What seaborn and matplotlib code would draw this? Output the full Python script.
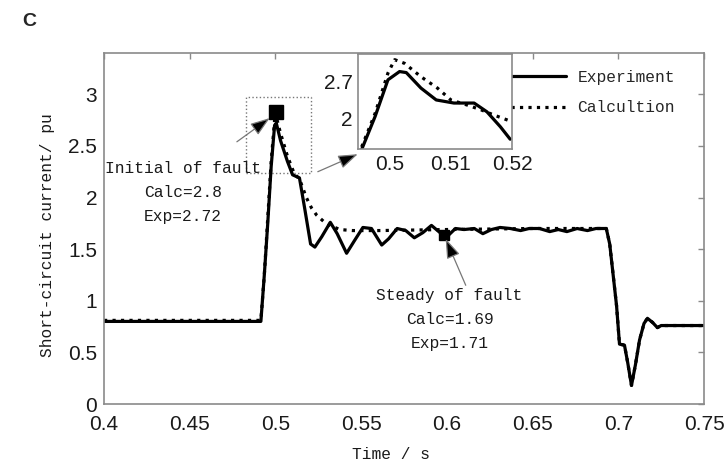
import matplotlib
matplotlib.use('Agg')
import matplotlib.pyplot as plt
from matplotlib.patches import Rectangle
import seaborn as sns

# ---- data ----
# experiment (solid line)
exp_t = [0.40, 0.4915, 0.4935, 0.4955, 0.4975, 0.4995, 0.5005, 0.503, 0.507, 0.510,
         0.514, 0.517, 0.5205, 0.523, 0.527, 0.532, 0.536, 0.5415, 0.546, 0.551,
         0.556, 0.562, 0.566, 0.571, 0.576, 0.581, 0.586, 0.591, 0.596, 0.600,
         0.605, 0.610, 0.616, 0.621, 0.626, 0.631, 0.637, 0.643, 0.648, 0.654,
         0.660, 0.665, 0.670, 0.676, 0.682, 0.687, 0.693, 0.695, 0.697, 0.699,
         0.7007, 0.7036, 0.7055, 0.7077, 0.710, 0.7124, 0.715, 0.717, 0.720, 0.7228,
         0.725, 0.75]
exp_i = [0.80, 0.80, 1.25, 1.75, 2.30, 2.70, 2.72, 2.55, 2.35, 2.22,
         2.19, 1.90, 1.55, 1.52, 1.62, 1.76, 1.65, 1.46, 1.58, 1.71,
         1.70, 1.54, 1.60, 1.70, 1.68, 1.61, 1.66, 1.73, 1.66, 1.62,
         1.70, 1.69, 1.70, 1.65, 1.69, 1.71, 1.70, 1.68, 1.70, 1.70,
         1.67, 1.69, 1.67, 1.70, 1.68, 1.70, 1.70, 1.55, 1.25, 0.95,
         0.58, 0.57, 0.40, 0.18, 0.38, 0.62, 0.78, 0.83, 0.79, 0.74,
         0.76, 0.76]

# calculation (dotted line)
calc_t = [0.40, 0.4915, 0.4935, 0.4955, 0.4975, 0.4995, 0.5005, 0.503, 0.507, 0.511,
          0.514, 0.518, 0.521, 0.524, 0.528, 0.532, 0.5375, 0.545, 0.560, 0.600,
          0.650, 0.693, 0.695, 0.697, 0.699, 0.7007, 0.7036, 0.7055, 0.7077, 0.710,
          0.7124, 0.715, 0.717, 0.720, 0.7228, 0.725, 0.75]
calc_i = [0.81, 0.81, 1.25, 1.80, 2.35, 2.75, 2.78, 2.62, 2.40, 2.23,
          2.18, 2.00, 1.90, 1.83, 1.77, 1.73, 1.69, 1.68, 1.68, 1.69,
          1.70, 1.70, 1.55, 1.25, 0.95, 0.58, 0.57, 0.40, 0.18, 0.38,
          0.62, 0.78, 0.83, 0.79, 0.74, 0.76, 0.76]

# zoomed inset
ins_exp_t = [0.4954, 0.4976, 0.4997, 0.5016, 0.5027, 0.5051, 0.5076, 0.5105, 0.5138, 0.5159, 0.5181, 0.5197]
ins_exp_i = [1.39, 2.03, 2.74, 2.90, 2.88, 2.58, 2.35, 2.29, 2.29, 2.12, 1.83, 1.59]
ins_calc_t = [0.4954, 0.4976, 0.4997, 0.5008, 0.5024, 0.5051, 0.5078, 0.5100, 0.5127, 0.5149, 0.5170, 0.5195]
ins_calc_i = [1.44, 2.09, 2.87, 3.13, 3.06, 2.80, 2.58, 2.35, 2.25, 2.16, 2.06, 1.95]

# marked points
mark_t = [0.5005, 0.5985]
mark_i = [2.83, 1.64]

xticks = [0.4, 0.45, 0.5, 0.55, 0.6, 0.65, 0.7, 0.75]
xtick_labels = ['0.4', '0.45', '0.5', '0.55', '0.6', '0.65', '0.7', '0.75']
yticks = [0, 0.5, 1, 1.5, 2, 2.5, 3]
ytick_labels = ['0', '0.5', '1', '1.5', '2', '2.5', '3']

sns.set_theme(style='white')
plt.rcParams['font.family'] = ['Liberation Sans', 'DejaVu Sans']
mono = 'Liberation Mono'
spine_c = '#8a8a8a'

fig = plt.figure(figsize=(7.26, 4.67), dpi=100)
ax = fig.add_axes([0.1433, 0.1349, 0.8264, 0.7516])

sns.lineplot(x=exp_t, y=exp_i, ax=ax, color='black', lw=2.3, sort=False, label='Experiment')
sns.lineplot(x=calc_t, y=calc_i, ax=ax, color='black', lw=2.3, ls=':', sort=False, label='Calcultion')

ax.plot(mark_t[0], mark_i[0], 's', color='black', ms=9.5)
ax.plot(mark_t[1], mark_i[1], 's', color='black', ms=7.5)

ax.set_xlim(0.4, 0.75)
ax.set_ylim(0, 3.4)
ax.set_xticks(xticks)
ax.set_xticklabels(xtick_labels)
ax.set_yticks(yticks)
ax.set_yticklabels(ytick_labels)
ax.tick_params(direction='in', top=True, right=True, length=4, width=1, color=spine_c,
               labelsize=15, labelcolor='#1a1a1a')
ax.tick_params(axis='x', pad=8)
ax.tick_params(axis='y', pad=5)
for s in ax.spines.values():
    s.set_color(spine_c)
    s.set_linewidth(1.2)

ax.set_xlabel('Time / s', family=mono, fontsize=11.7, color='#1a1a1a')
ax.xaxis.set_label_coords(0.478, -0.122)
ax.set_ylabel('Short-circuit current/ pu', family=mono, fontsize=11.7, color='#1a1a1a')
ax.yaxis.set_label_coords(-0.082, 0.48)

# dotted box around the peak
ax.add_patch(Rectangle((0.4827, 2.236), 0.0379, 0.739, fill=False, ls=':', ec='#777777', lw=1))

# arrows
arr = dict(arrowstyle='-|>,head_length=1.0,head_width=0.35', ec='#777777', fc='black',
           lw=0.9, shrinkA=0, shrinkB=0)
ax.annotate('', xy=(0.4967, 2.77), xytext=(0.4775, 2.54), arrowprops=arr)
ax.annotate('', xy=(0.548, 2.42), xytext=(0.5247, 2.25), arrowprops=arr)
ax.annotate('', xy=(0.5993, 1.60), xytext=(0.611, 1.15), arrowprops=arr)

ax.text(0.446, 2.05, 'Initial of fault\nCalc=2.8\nExp=2.72', family=mono, fontsize=11.7,
        ha='center', va='center', linespacing=1.75, color='#1a1a1a')
ax.text(0.6016, 0.82, 'Steady of fault\nCalc=1.69\nExp=1.71', family=mono, fontsize=11.7,
        ha='center', va='center', linespacing=1.75, color='#1a1a1a')

ax.legend(loc='upper left', bbox_to_anchor=(511 / 726, (467 - 70) / 467),
          bbox_transform=fig.transFigure, frameon=False, prop=dict(family=mono, size=11.7),
          handlelength=3.4, handletextpad=0.7, labelspacing=0.95, borderpad=0, borderaxespad=0)

# inset
axin = fig.add_axes([358 / 726, (467 - 149) / 467, 154 / 726, 95 / 467])
sns.lineplot(x=ins_exp_t, y=ins_exp_i, ax=axin, color='black', lw=2.3, sort=False)
sns.lineplot(x=ins_calc_t, y=ins_calc_i, ax=axin, color='black', lw=2.3, ls=':', sort=False)
axin.set_xlim(0.4948, 0.5197)
axin.set_ylim(1.40, 3.24)
axin.set_xticks([0.5, 0.51, 0.52])
axin.set_xticklabels(['0.5', '0.51', '0.52'])
axin.set_yticks([2, 2.7])
axin.set_yticklabels(['2', '2.7'])
axin.tick_params(direction='in', length=3, width=1, color=spine_c, labelsize=15,
                 labelcolor='#1a1a1a', pad=4)
for s in axin.spines.values():
    s.set_color(spine_c)
    s.set_linewidth(1.2)

fig.text(22 / 726, 1 - 21 / 467, 'C', fontsize=14, fontweight='bold', ha='left', va='center')

fig.savefig('out.png', dpi=100)
